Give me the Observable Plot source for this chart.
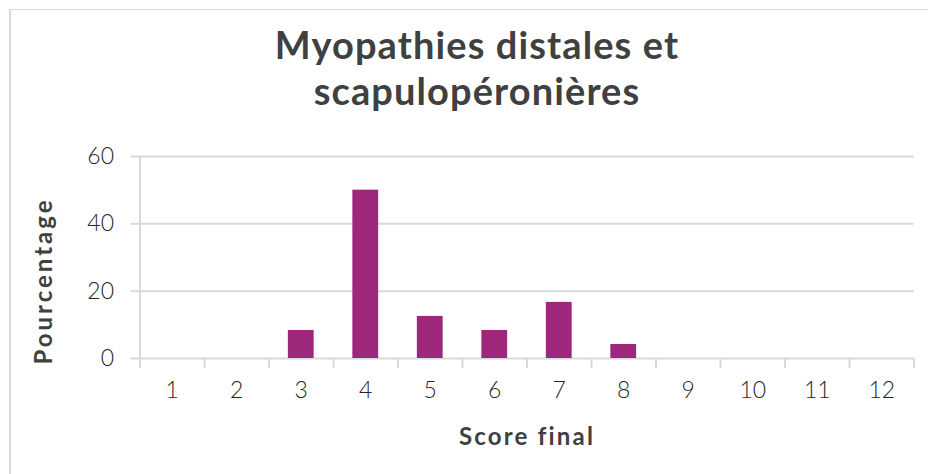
<!DOCTYPE html>
<html>
<head>
<meta charset="utf-8">
<script src="https://cdn.jsdelivr.net/npm/d3@7"></script>
<script src="https://cdn.jsdelivr.net/npm/@observablehq/plot@0.6"></script>
<style>
  body { margin: 0; background: #fff; }
  #wrap { position: relative; width: 928px; height: 474px; overflow: hidden; background: #fff; font-family: Lato, "Open Sans", sans-serif; }
  #frame { position: absolute; left: 9px; top: 9px; width: 1000px; height: 1000px; border-top: 1.5px solid #d9d9d9; border-left: 2px solid #d9d9d9; box-sizing: border-box; }
  #title { position: absolute; left: 0; width: 954px; top: 21px; text-align: center; font-size: 38px; line-height: 46px; font-weight: 700; color: #404040; letter-spacing: 1.1px; }
  #ylab { position: absolute; left: 42px; top: 281px; transform: translate(-50%, -50%) rotate(-90deg); font-size: 24px; font-weight: 700; color: #404040; white-space: nowrap; letter-spacing: 3px; }
  #xlab { position: absolute; left: 527px; top: 435px; transform: translate(-50%, -50%); font-size: 24px; font-weight: 700; color: #404040; white-space: nowrap; letter-spacing: 2.2px; }
  #chart { position: absolute; left: 0; top: 0; }
</style>
</head>
<body>
<div id="wrap">
  <div id="frame"></div>
  <div id="chart"></div>
  <div id="title">Myopathies distales et<br>scapulopéronières</div>
  <div id="ylab">Pourcentage</div>
  <div id="xlab">Score final</div>
</div>
<script>
const scores = ["1", "2", "3", "4", "5", "6", "7", "8", "9", "10", "11", "12"];
const percentages = [0, 0, 8.33, 50, 12.5, 8.33, 16.67, 4.17, 0, 0, 0, 0];
const yTicks = [0, 20, 40, 60];

const data = scores.map((s, i) => ({score: s, pct: percentages[i]}));

const W = 928, H = 474;
const mL = 139.5, mR = 14.5, mT = 156, mB = 116;
const band = (W - mL - mR) / scores.length;
const gridColor = "#d9d9d9";
const tickDrop = -2.96; // ~10px below baseline in y units

const chart = Plot.plot({
  width: W,
  height: H,
  marginTop: mT,
  marginBottom: mB,
  marginLeft: mL,
  marginRight: mR,
  style: { fontFamily: "Lato, 'Open Sans', sans-serif", fontSize: "23px", fontWeight: 300, color: "#262626", background: "transparent", overflow: "visible" },
  x: { domain: scores, paddingInner: 0.6, paddingOuter: 0.3, round: false, label: null },
  y: { domain: [0, 60], label: null },
  marks: [
    Plot.ruleY(yTicks, { stroke: gridColor, strokeWidth: 2 }),
    Plot.axisY(yTicks, { tickSize: 9, tickPadding: 17, stroke: gridColor, strokeWidth: 2, label: null, fontSize: 23 }),
    Plot.ruleX(scores, { x: d => d, dx: -band / 2, y1: tickDrop, y2: 0, stroke: gridColor, strokeWidth: 2 }),
    Plot.ruleX([scores[scores.length - 1]], { x: d => d, dx: band / 2, y1: tickDrop, y2: 0, stroke: gridColor, strokeWidth: 2 }),
    Plot.ruleX([scores[0]], { x: d => d, dx: -band / 2, y1: tickDrop, y2: 60, stroke: gridColor, strokeWidth: 2 }),
    Plot.barY(data, { x: "score", y: "pct", fill: "#9d277b" }),
    Plot.axisX({ tickSize: 0, tickPadding: 23, label: null, fontSize: 23 })
  ]
});
document.getElementById("chart").appendChild(chart);
</script>
</body>
</html>
